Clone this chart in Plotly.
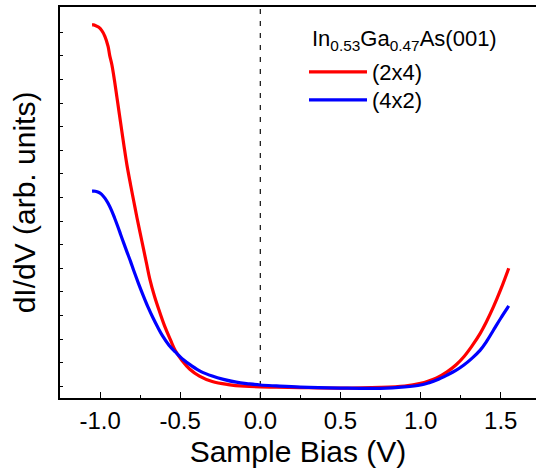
import plotly.graph_objects as go

# Sample bias (V) and dI/dV (arb. units)
bias_2x4 = [-1.05, -1.04, -1.03, -1.01, -0.99, -0.97, -0.95, -0.94, -0.926, -0.91, -0.895,
            -0.88, -0.864, -0.85, -0.833, -0.81, -0.79, -0.77, -0.75, -0.73, -0.71,
            -0.69, -0.66, -0.626, -0.60, -0.56, -0.53, -0.49, -0.44, -0.38, -0.30,
            -0.20, -0.10, 0.0, 0.1, 0.25, 0.5, 0.75, 0.9, 1.0, 1.05,
            1.1, 1.165, 1.22, 1.27, 1.32, 1.372, 1.41, 1.455, 1.50, 1.55]
didv_2x4 = [15.81, 15.81, 15.79, 15.72, 15.58, 15.33, 14.90, 14.52, 14.11, 13.45, 12.75,
            12.05, 11.30, 10.65, 9.90, 9.05, 8.35, 7.65, 7.00, 6.35, 5.70,
            5.05, 4.30, 3.60, 3.10, 2.45, 2.00, 1.60, 1.22, 0.93, 0.70,
            0.57, 0.50, 0.47, 0.46, 0.44, 0.42, 0.45, 0.51, 0.62, 0.72,
            0.85, 1.11, 1.40, 1.75, 2.20, 2.74, 3.22, 3.87, 4.60, 5.50]

bias_4x2 = [-1.05, -1.04, -1.03, -1.01, -0.99, -0.97, -0.95, -0.93, -0.91, -0.89, -0.87,
            -0.85, -0.83, -0.81, -0.79, -0.76, -0.73, -0.70, -0.67, -0.64, -0.61,
            -0.57, -0.53, -0.48, -0.43, -0.37, -0.30, -0.23, -0.15, -0.07, 0.0,
            0.1, 0.25, 0.5, 0.75, 0.9, 1.0, 1.05, 1.1, 1.165, 1.22,
            1.27, 1.32, 1.372, 1.41, 1.455, 1.50, 1.55]
didv_4x2 = [8.77, 8.77, 8.76, 8.72, 8.63, 8.47, 8.25, 7.97, 7.64, 7.28, 6.90,
            6.52, 6.15, 5.79, 5.40, 4.85, 4.33, 3.84, 3.40, 3.00, 2.63,
            2.24, 1.95, 1.62, 1.37, 1.12, 0.93, 0.79, 0.67, 0.60, 0.55,
            0.51, 0.46, 0.42, 0.41, 0.47, 0.55, 0.64, 0.76, 0.97, 1.17,
            1.40, 1.68, 2.03, 2.38, 2.88, 3.38, 3.90]

series_names = ["(2x4)", "(4x2)"]
series_colors = ["#ff0000", "#0000ff"]
legend_title = "In<sub>0.53</sub>Ga<sub>0.47</sub>As(001)"

x_tick_vals = [-1.0, -0.5, 0.0, 0.5, 1.0, 1.5]
x_tick_text = ["-1.0", "-0.5", "0.0", "0.5", "1.0", "1.5"]
y_tick_vals = [0.5 + k for k in range(16)]

FONT = "Arial, Liberation Sans, Helvetica, sans-serif"

fig = go.Figure()
for xs, ys, name, col, lg in [(bias_2x4, didv_2x4, series_names[0], series_colors[0], "legend"),
                              (bias_4x2, didv_4x2, series_names[1], series_colors[1], "legend2")]:
    fig.add_trace(go.Scatter(x=xs, y=ys, mode="lines", name=name, legend=lg,
                             line=dict(color=col, width=3.2, shape="spline", smoothing=1.0)))

fig.add_shape(type="line", xref="x", yref="paper", x0=0, x1=0, y0=0, y1=1,
              line=dict(color="#222222", width=1.3, dash="5px,7px"), layer="below")

fig.add_annotation(text=legend_title, xref="paper", yref="paper",
                   x=0.525, y=0.916, xanchor="left", yanchor="middle",
                   showarrow=False, font=dict(size=22, family=FONT, color="black"))

legend_common = dict(xanchor="left", yanchor="top", bgcolor="rgba(0,0,0,0)", borderwidth=0,
                     font=dict(size=22, family=FONT, color="black"), itemwidth=58)

fig.update_layout(
    width=536, height=472,
    margin=dict(l=60, r=0, t=7, b=74),
    paper_bgcolor="white", plot_bgcolor="white",
    font=dict(family=FONT, color="black"),
    showlegend=True,
    legend=dict(x=0.5126, y=0.8875, **legend_common),
    legend2=dict(x=0.5126, y=0.8159, **legend_common),
    xaxis=dict(
        range=[-1.25, 1.72], showgrid=False, zeroline=False,
        showline=True, linecolor="black", linewidth=1.6, mirror=True,
        ticks="inside", ticklen=6, tickwidth=1.3, tickcolor="black",
        tickvals=x_tick_vals, ticktext=x_tick_text,
        tickfont=dict(size=24, family=FONT, color="black"),
        minor=dict(ticks="inside", ticklen=3, tickwidth=1.1, tickcolor="black", dtick=0.25, tick0=0),
        title=dict(text="Sample Bias (V)", font=dict(size=30, family=FONT, color="black"), standoff=8),
    ),
    yaxis=dict(
        range=[0, 16.57], showgrid=False, zeroline=False,
        showline=True, linecolor="black", linewidth=1.6, mirror=False,
        ticks="inside", ticklen=3, tickwidth=1, tickcolor="black",
        tickvals=y_tick_vals, showticklabels=False,
        title=dict(text="dI/dV (arb. units)", font=dict(size=30, family=FONT, color="black"), standoff=14),
    ),
)

fig.write_html("out.html")
